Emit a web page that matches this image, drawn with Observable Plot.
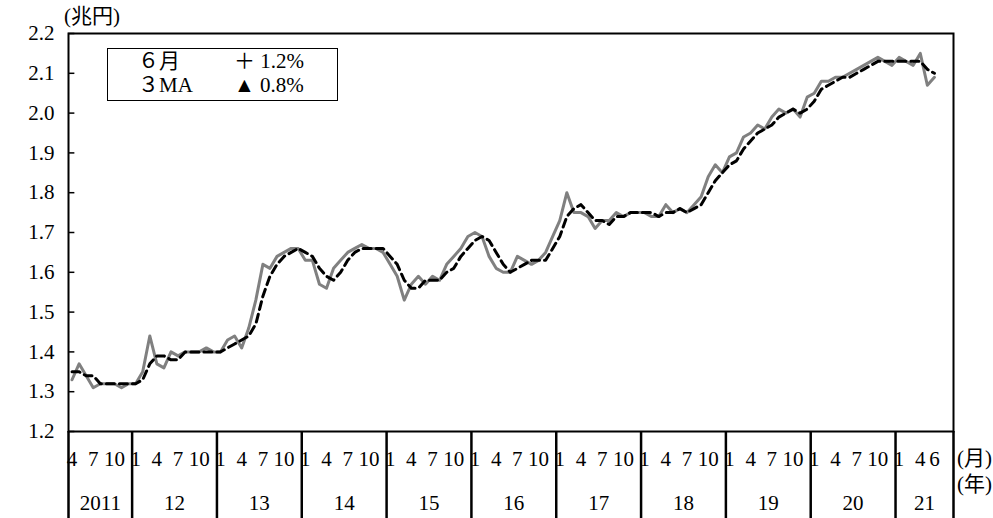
<!DOCTYPE html>
<html><head><meta charset="utf-8">
<script src="https://cdn.jsdelivr.net/npm/d3@7"></script>
<script src="https://cdn.jsdelivr.net/npm/@observablehq/plot@0.6"></script>
<style>
body{margin:0;background:#fff;font-family:"Liberation Serif","Noto Sans CJK JP",serif;}
#wrap{position:relative;width:993px;height:518px;}
.t{position:absolute;font-size:21px;line-height:24px;color:#000;white-space:pre;font-family:"Liberation Serif","Noto Sans CJK JP",serif;}
#legend{position:absolute;left:107px;top:48px;width:229px;height:51px;border:1.5px solid #000;background:#fff;}
</style></head><body>
<div id="wrap"></div>
<script>
const years = ["2011","12","13","14","15","16","17","18","19","20","21"];
const startMonth = 4; // April 2011
const actual = [
1.33,1.37,1.34,1.31,1.32,1.32,1.32,1.31,1.32,
1.32,1.35,1.44,1.37,1.36,1.40,1.39,1.40,1.40,1.40,1.41,1.40,
1.40,1.43,1.44,1.41,1.46,1.53,1.62,1.61,1.64,1.65,1.66,1.66,
1.63,1.63,1.57,1.56,1.61,1.63,1.65,1.66,1.67,1.66,1.66,1.65,
1.62,1.59,1.53,1.57,1.59,1.57,1.59,1.58,1.62,1.64,1.66,1.69,
1.70,1.69,1.64,1.61,1.60,1.60,1.64,1.63,1.62,1.63,1.65,1.69,
1.73,1.80,1.75,1.75,1.74,1.71,1.73,1.73,1.75,1.74,1.75,1.75,
1.75,1.74,1.74,1.77,1.75,1.76,1.75,1.77,1.79,1.84,1.87,1.85,
1.89,1.90,1.94,1.95,1.97,1.96,1.99,2.01,2.00,2.01,1.99,2.04,
2.05,2.08,2.08,2.09,2.09,2.10,2.11,2.12,2.13,2.14,2.13,2.12,
2.14,2.13,2.12,2.15,2.07,2.09];
const ma3 = [
1.35,1.35,1.34,1.34,1.32,1.32,1.32,1.32,1.32,
1.32,1.33,1.37,1.39,1.39,1.38,1.38,1.40,1.40,1.40,1.40,1.40,
1.40,1.41,1.42,1.43,1.44,1.47,1.54,1.59,1.62,1.64,1.65,1.66,
1.65,1.64,1.61,1.59,1.58,1.60,1.63,1.65,1.66,1.66,1.66,1.66,
1.64,1.62,1.58,1.56,1.56,1.58,1.58,1.58,1.60,1.61,1.64,1.66,
1.68,1.69,1.68,1.65,1.62,1.60,1.61,1.62,1.63,1.63,1.63,1.66,
1.69,1.74,1.76,1.77,1.75,1.73,1.73,1.72,1.74,1.74,1.75,1.75,
1.75,1.75,1.74,1.75,1.75,1.76,1.75,1.76,1.77,1.80,1.83,1.85,
1.87,1.88,1.91,1.93,1.95,1.96,1.97,1.99,2.00,2.01,2.00,2.01,
2.03,2.06,2.07,2.08,2.09,2.09,2.10,2.11,2.12,2.13,2.13,2.13,
2.13,2.13,2.13,2.13,2.11,2.10];
const yTicks = [1.2,1.3,1.4,1.5,1.6,1.7,1.8,1.9,2.0,2.1,2.2];
const monthTicks = [1,4,7,10];
const lastMonthTicks = [1,4,6];

const data = actual.map((v,i)=>({i, v, m: ma3[i]}));
const idx = (yearPos, month) => yearPos*12 + month - startMonth;
const monthLabels = [];
years.forEach((y,k)=>(k===years.length-1?lastMonthTicks:monthTicks).forEach(mo=>{
  const i = idx(k,mo);
  if (i>=0 && i<actual.length) monthLabels.push({i, t:String(mo)});
}));
const bounds = [-0.5, ...years.slice(1).map((y,k)=>idx(k+1,1)-0.5), 124.7];
const yearLabels = years.map((y,k)=>({t:y, i:(bounds[k]+bounds[k+1])/2}));

const fam = '"Liberation Serif","Noto Sans CJK JP",serif';
const chart = Plot.plot({
  width: 993, height: 518,
  marginTop: 33, marginBottom: 87, marginLeft: 68, marginRight: 40,
  style: {fontFamily: fam, background: "#fff", overflow: "visible"},
  x: {domain: [-0.5, 124.7], axis: null},
  y: {domain: [1.2, 2.2], axis: null},
  marks: [
    Plot.axisY(yTicks, {tickFormat: d3.format(".1f"), tickSize: 0, tickPadding: 14, label: null, fontSize: 21}),
    Plot.ruleY(yTicks, {y: d=>d, x1: -0.5, x2: 0.4, stroke: "#000", strokeWidth: 1.5}),
    Plot.line(data, {x: "i", y: "v", stroke: "#808080", strokeWidth: 3}),
    Plot.line(data, {x: "i", y: "m", stroke: "#000", strokeWidth: 3, strokeDasharray: "8,5"}),
    Plot.frame({stroke: "#000", strokeWidth: 2}),
    Plot.ruleX(bounds, {x: d=>d, y1: 1.2, y2: 0.98, stroke: "#000", strokeWidth: 2.5}),
    Plot.text(monthLabels, {x: "i", y: 1.2, text: "t", dy: 28, fontSize: 21, textAnchor: "middle"}),
    Plot.text(yearLabels, {x: "i", y: 1.2, text: "t", dy: 72, fontSize: 21, textAnchor: "middle"})
  ]
});
const wrap = document.getElementById("wrap");
wrap.appendChild(chart);
const add = (html, l, t, cls="t") => { const d=document.createElement("div"); d.className=cls; d.style.left=l+"px"; d.style.top=t+"px"; d.innerHTML=html; wrap.appendChild(d); return d;};
add("(兆円)", 64, 4);
add("(月)", 957, 446);
add("(年)", 957, 472);
const lg = document.createElement("div"); lg.id="legend"; wrap.appendChild(lg);
add("６月", 138, 49); add("＋ 1.2%", 234, 49);
add("３MA", 138, 73); add("▲ 0.8%", 234, 73);
</script></body></html>
